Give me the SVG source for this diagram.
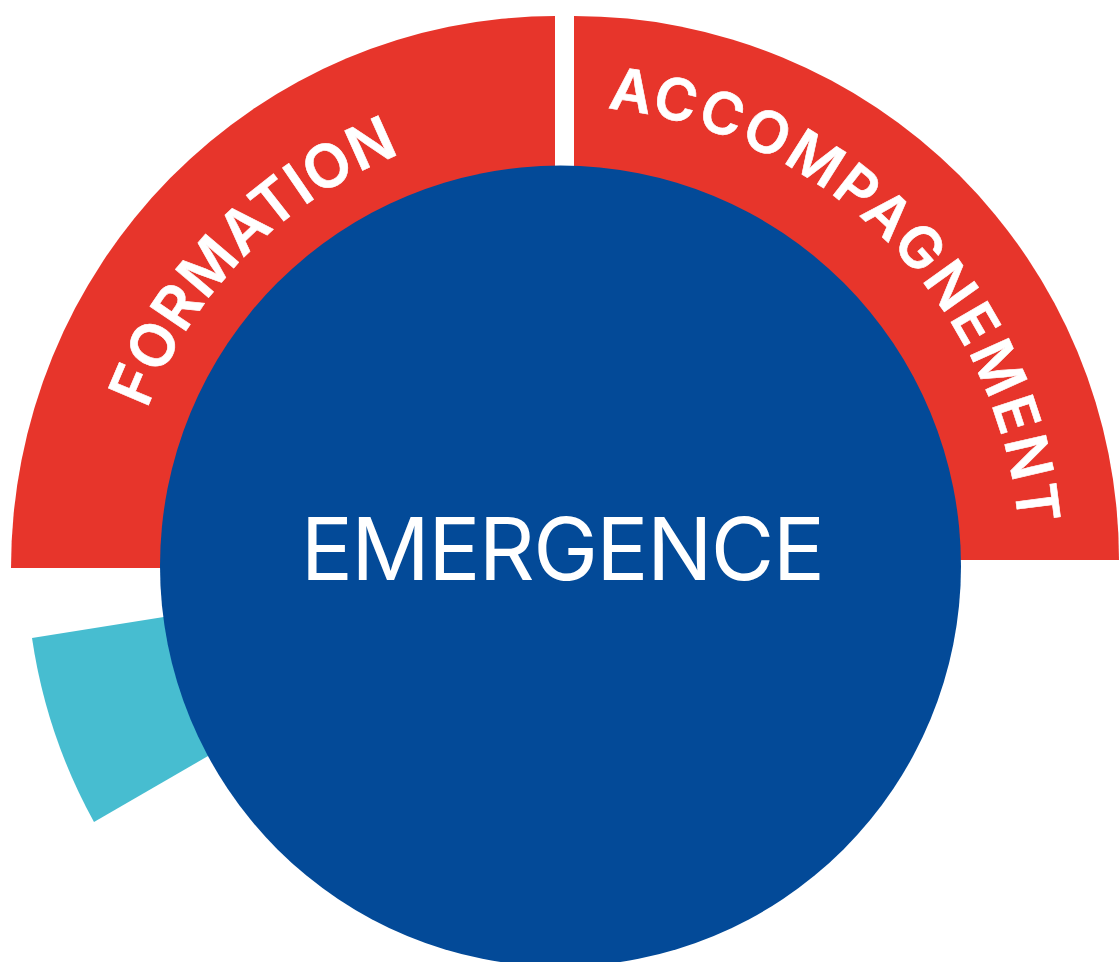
<svg xmlns="http://www.w3.org/2000/svg" width="1119" height="962" viewBox="0 0 1119 962">
<style>
.ring{font-family:"Inter","Liberation Sans",sans-serif;font-weight:600;fill:#fff;stroke:#fff;stroke-width:.6}
.c{font-family:"Inter","Liberation Sans",sans-serif;font-weight:400;font-size:87px;fill:#fff}
</style>
<defs>
<path id="p1" d="M118.500 566A442 442 0 0 1 560.500 124"/>
<path id="p2" d="M560.500 106A460 460 0 0 1 1020.500 566"/>
</defs>
<rect width="1119" height="962" fill="#fff"/>
<g id="formation"><path d="M11 568A545 552 0 0 1 555 16V568Z" fill="#e7352b"/>
<text class="ring" font-size="60" letter-spacing="1"><textPath href="#p1" startOffset="160">FORMATION</textPath></text></g>
<g id="accompagnement"><path d="M574 16A545 544 0 0 1 1119 560H574Z" fill="#e7352b"/>
<text class="ring" font-size="58" letter-spacing="3.400"><textPath href="#p2" startOffset="47">ACCOMPAGNEMENT</textPath></text></g>
<g id="teal"><path d="M32 638L170 616L215 752L94 822A545 545 0 0 1 32 638Z" fill="#47bdd0"/></g>
<g id="emergence"><circle cx="560.500" cy="566" r="400.500" fill="#034a98"/>
<text class="c" x="562" y="580" text-anchor="middle" letter-spacing="-1.700">EMERGENCE</text></g>
</svg>
